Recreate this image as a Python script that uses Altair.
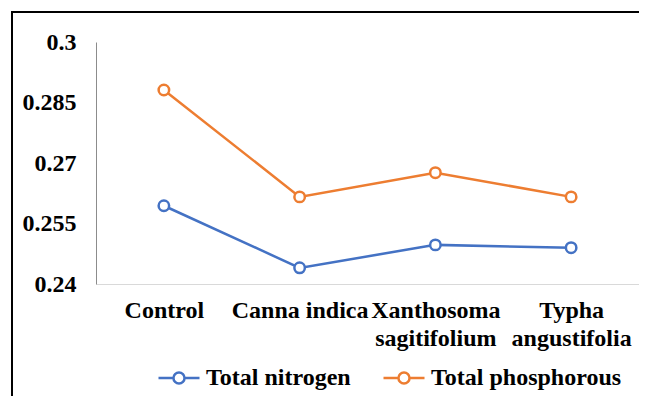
import altair as alt
import pandas as pd

categories = ["Control", "Canna indica", "Xanthosoma sagitifolium", "Typha angustifolia"]
total_nitrogen = [0.2594, 0.2440, 0.2497, 0.2490]
total_phosphorous = [0.2881, 0.2616, 0.2676, 0.2616]
series_names = ["Total nitrogen", "Total phosphorous"]
y_ticks = [0.24, 0.255, 0.27, 0.285, 0.3]

rows = []
for c, n, p in zip(categories, total_nitrogen, total_phosphorous):
    rows.append({"category": c, "series": series_names[0], "value": n})
    rows.append({"category": c, "series": series_names[1], "value": p})
df = pd.DataFrame(rows)

FONT = "Liberation Serif"
FS = 24
colors = ["#4472C4", "#ED7D31"]

x_enc = alt.X(
    "category:N",
    sort=categories,
    scale=alt.Scale(type="point", padding=0.5),
    axis=alt.Axis(
        title=None,
        labelAngle=0,
        ticks=False,
        domainColor="#d9d9d9",
        domainWidth=1,
        labelFont=FONT,
        labelFontSize=FS,
        labelFontWeight="bold",
        labelColor="black",
        labelPadding=14,
        labelLineHeight=28,
        labelExpr="length(datum.label) > 12 ? split(datum.label, ' ') : datum.label",
    ),
)
y_enc = alt.Y(
    "value:Q",
    scale=alt.Scale(domain=[0.24, 0.3], nice=False, zero=False),
    axis=alt.Axis(
        title=None,
        values=y_ticks,
        format=".3~f",
        grid=False,
        ticks=False,
        domainColor="#8c8c8c",
        domainWidth=1,
        labelFont=FONT,
        labelFontSize=FS,
        labelFontWeight="bold",
        labelColor="black",
        labelPadding=20,
    ),
)
color_enc = alt.Color(
    "series:N",
    sort=series_names,
    scale=alt.Scale(domain=series_names, range=colors),
    legend=alt.Legend(
        title=None,
        orient="none",
        direction="horizontal",
        legendX=61,
        legendY=314,
        symbolType="M-1,0L-0.27,0M0.27,0L1,0M-0.27,0A0.27,0.27,0,1,1,0.27,0A0.27,0.27,0,1,1,-0.27,0",
        symbolSize=1681,
        symbolStrokeWidth=2.5,
        symbolFillColor="white",
        labelFont=FONT,
        labelFontSize=FS,
        labelFontWeight="bold",
        labelColor="black",
        labelOffset=5,
        labelLimit=400,
        columnPadding=27,
    ),
)

base = alt.Chart(df)
lines = base.mark_line(strokeWidth=2.5).encode(x=x_enc, y=y_enc, color=color_enc)
points = base.mark_point(filled=True, fill="white", size=110, strokeWidth=2.5, opacity=1).encode(
    x=x_enc, y=y_enc, stroke=alt.Stroke("series:N", scale=alt.Scale(domain=series_names, range=colors), legend=None)
)
one = pd.DataFrame({"f": [0]})
frame_top = alt.Chart(one).mark_rule(color="black", strokeWidth=2).encode(
    x=alt.value(-84), x2=alt.value(560), y=alt.value(-30)
)
frame_left = alt.Chart(one).mark_rule(color="black", strokeWidth=2).encode(
    x=alt.value(-84), y=alt.value(-31), y2=alt.value(380)
)

chart = (
    alt.layer(frame_top, frame_left, lines, points)
    .properties(
        width=543,
        height=242,
        padding={"left": 88, "top": 34, "right": 0, "bottom": 112},
        autosize=alt.AutoSizeParams(type="none"),
    )
    .configure(background="white")
    .configure_view(strokeWidth=0, stroke="transparent")
)

chart.save("out.html", embed_options={"renderer": "svg", "actions": False})
